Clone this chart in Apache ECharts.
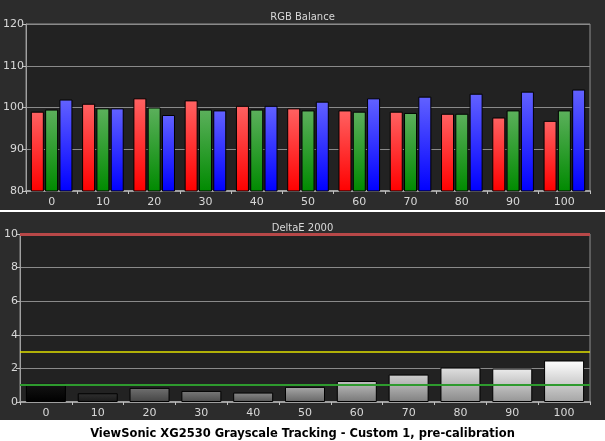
<!DOCTYPE html>
<html>
<head>
<meta charset="utf-8">
<script src="https://cdn.jsdelivr.net/npm/echarts@6/dist/echarts.min.js"></script>
<style>
  html, body { margin: 0; padding: 0; background: #fff; }
  #chart { width: 605px; height: 441px; }
</style>
</head>
<body>
<div id="chart"></div>
<script>
// grayscale steps (% stimulus)
var levels = ['0', '10', '20', '30', '40', '50', '60', '70', '80', '90', '100']

// RGB balance (%)
var redVals = [99.0, 100.9, 102.2, 101.7, 100.4, 99.8, 99.3, 99.0, 98.5, 97.6, 96.8]
var greenVals = [99.5, 99.8, 100.0, 99.5, 99.5, 99.3, 99.0, 98.7, 98.5, 99.3, 99.3]
var blueVals = [101.9, 99.8, 98.2, 99.3, 100.4, 101.4, 102.2, 102.6, 103.3, 103.8, 104.3]

// DeltaE 2000 per step
var deltaE = [1.08, 0.52, 0.84, 0.66, 0.56, 0.90, 1.25, 1.63, 2.05, 1.99, 2.47]

// reference thresholds
var refRed = 10
var refYellow = 3
var refGreen = 1

var rgbTicks = [80, 90, 100, 110, 120]
var deTicks = [0, 2, 4, 6, 8, 10]

// bar shading for each gray step (top, bottom)
var grayTop = ['#141414', '#303030', '#707070', '#7a7a7a', '#8a8a8a', '#a8a8a8', '#c0c0c0', '#d0d0d0', '#e0e0e0', '#ececec', '#ffffff']
var grayBot = ['#000000', '#1a1a1a', '#444444', '#4c4c4c', '#555555', '#666666', '#777777', '#808080', '#8a8a8a', '#959595', '#a5a5a5']

function grad(top, bottom) {
  return new echarts.graphic.LinearGradient(0, 0, 0, 1, [
    { offset: 0, color: top },
    { offset: 1, color: bottom }
  ])
}

var txt = '#d8d8d8'
var font = 'DejaVu Sans'

var xAxisBase = {
  type: 'category',
  data: levels,
  axisLine: { lineStyle: { color: '#a0a0a0', width: 2 } },
  axisTick: { show: true, length: 3, lineStyle: { color: '#c0c0c0' } },
  axisLabel: { color: txt, fontFamily: font, fontSize: 11, margin: 6 },
  splitLine: { show: false }
}

function yAxisBase(min, max, step) {
  return {
    type: 'value',
    min: min,
    max: max,
    interval: step,
    axisLine: { show: true, lineStyle: { color: '#a0a0a0' } },
    axisTick: { show: true, length: 4, lineStyle: { color: '#c0c0c0' } },
    axisLabel: { color: txt, fontFamily: font, fontSize: 11, margin: 2 },
    splitLine: { lineStyle: { color: '#8a8a8a', width: 1 } }
  }
}

// a horizontal threshold line in the DeltaE panel, spanning all categories
function refLine(value, color, width) {
  return {
    type: 'line', xAxisIndex: 1, yAxisIndex: 1, data: [],
    markLine: {
      silent: true, symbol: ['none', 'none'], label: { show: false },
      lineStyle: { color: color, width: width, type: 'solid', opacity: 1 },
      data: [[
        { xAxis: 'min', yAxis: value, x: 20 },
        { xAxis: 'max', yAxis: value, x: 590 }
      ]]
    },
    z: 5
  }
}

var chart = echarts.init(document.getElementById('chart'))

var option = {
  backgroundColor: '#2c2c2c',
  animation: false,
  graphic: [
    { type: 'rect', left: 0, top: 210, shape: { width: 605, height: 2 }, style: { fill: '#ffffff' } },
    { type: 'rect', left: 0, top: 420, shape: { width: 605, height: 21 }, style: { fill: '#ffffff' }, z: -1 }
  ],
  title: [
    { text: 'RGB Balance', left: 'center', top: 7, textStyle: { color: txt, fontFamily: font, fontSize: 10, fontWeight: 'normal' } },
    { text: 'DeltaE 2000', left: 'center', top: 218, textStyle: { color: txt, fontFamily: font, fontSize: 10, fontWeight: 'normal' } },
    { text: 'ViewSonic XG2530 Grayscale Tracking - Custom 1, pre-calibration', left: 'center', top: 423,
      textStyle: { color: '#000', fontFamily: font, fontSize: 11.5, fontWeight: 'bold' } }
  ],
  grid: [
    { left: 26, top: 24, right: 15, height: 167, show: true, backgroundColor: '#222222', borderColor: '#909090', borderWidth: 1 },
    { left: 20, top: 234, right: 15, height: 168, show: true, backgroundColor: '#222222', borderColor: '#909090', borderWidth: 1 }
  ],
  xAxis: [
    Object.assign({ gridIndex: 0 }, xAxisBase),
    Object.assign({ gridIndex: 1 }, xAxisBase)
  ],
  yAxis: [
    Object.assign({ gridIndex: 0 }, yAxisBase(rgbTicks[0], rgbTicks[rgbTicks.length - 1], 10)),
    Object.assign({ gridIndex: 1 }, yAxisBase(deTicks[0], deTicks[deTicks.length - 1], 2))
  ],
  series: [
    {
      name: 'R', type: 'bar', xAxisIndex: 0, yAxisIndex: 0, data: redVals,
      barWidth: 13, barGap: '10%', barCategoryGap: '22%',
      itemStyle: { color: grad('#ff6262', '#ff0000'), borderColor: '#000', borderWidth: 1 }
    },
    {
      name: 'G', type: 'bar', xAxisIndex: 0, yAxisIndex: 0, data: greenVals,
      barWidth: 13, barGap: '10%',
      itemStyle: { color: grad('#5cb05c', '#008a00'), borderColor: '#000', borderWidth: 1 }
    },
    {
      name: 'B', type: 'bar', xAxisIndex: 0, yAxisIndex: 0, data: blueVals,
      barWidth: 13, barGap: '10%',
      itemStyle: { color: grad('#6262ff', '#0000ff'), borderColor: '#000', borderWidth: 1 }
    },
    {
      name: 'dE', type: 'bar', xAxisIndex: 1, yAxisIndex: 1,
      barWidth: 40,
      data: deltaE.map(function (v, i) {
        return { value: v, itemStyle: { color: grad(grayTop[i], grayBot[i]) } }
      }),
      itemStyle: { borderColor: '#000', borderWidth: 1 }
    },
    refLine(refRed, '#b84848', 3),
    refLine(refYellow, '#e0e000', 1.5),
    refLine(refGreen, '#2e9a2e', 2)
  ]
}

option && chart.setOption(option)
</script>
</body>
</html>
